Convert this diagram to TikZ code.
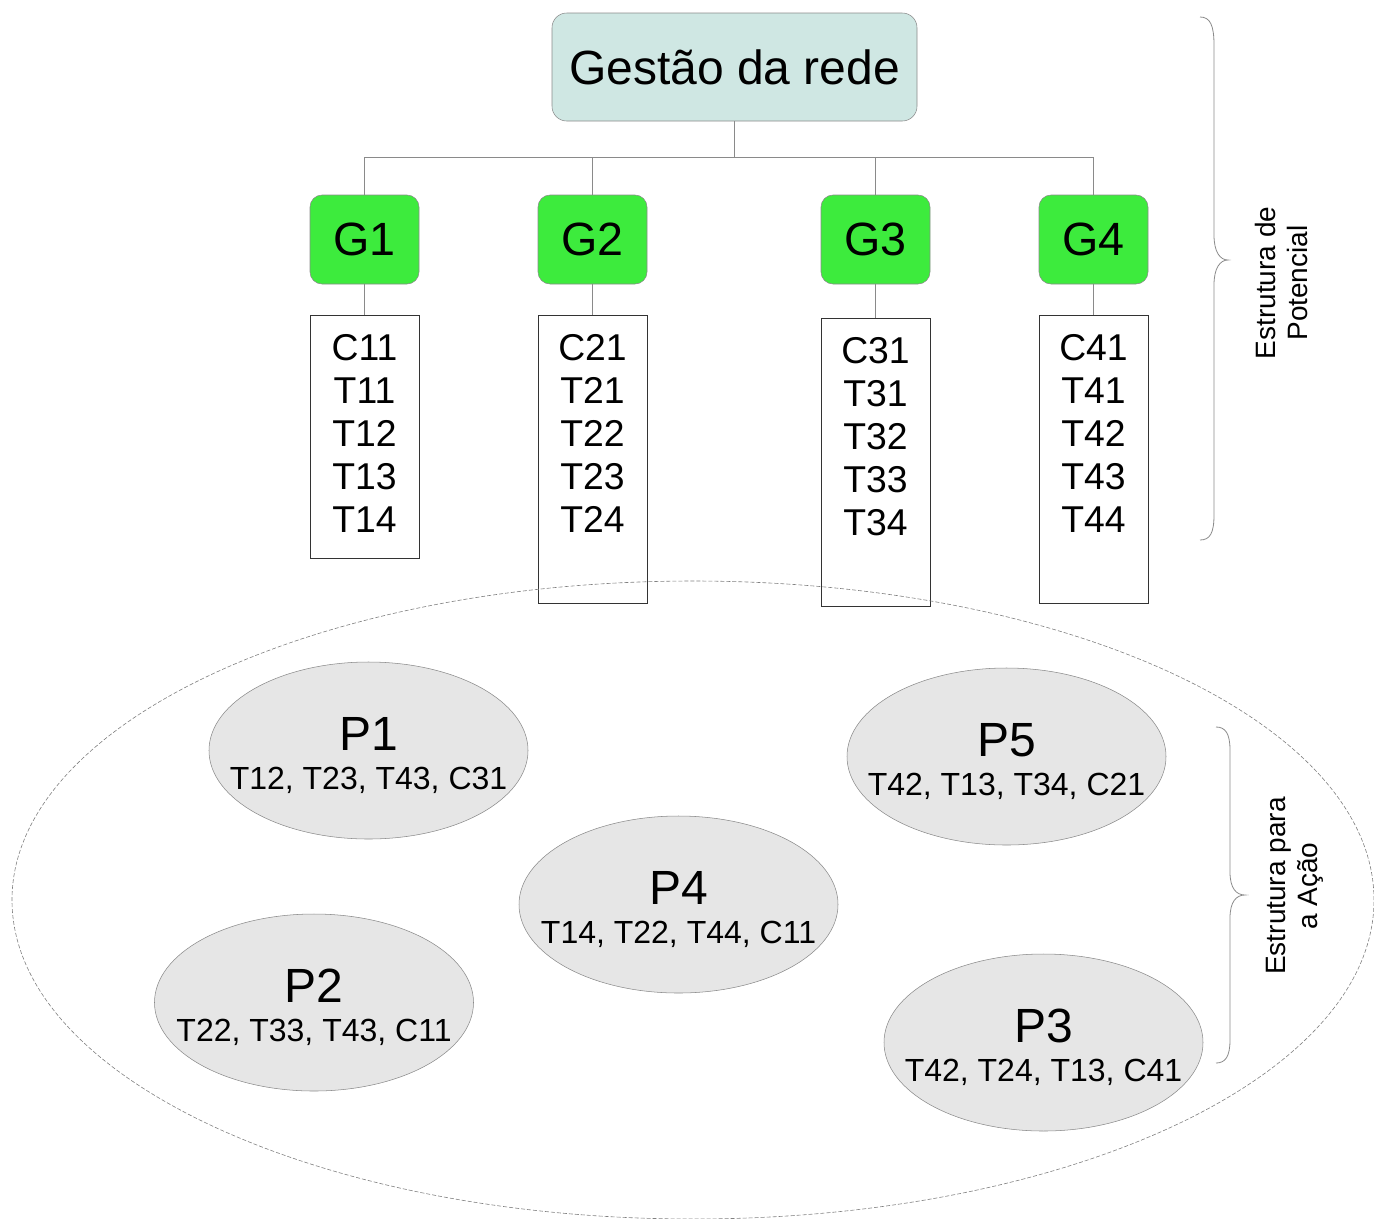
\documentclass[tikz,border=0pt]{standalone}
\usepackage{fontspec}
\setmainfont{Liberation Sans}
\usetikzlibrary{shapes.geometric}
\definecolor{tealfill}{HTML}{CFE7E3}
\definecolor{grnfill}{HTML}{3DEB3D}
\definecolor{pfill}{HTML}{E6E6E6}
\definecolor{lgray}{HTML}{8A8A8A}
\newcommand\lstbox[2]{\parbox[c][#1][t]{81.75pt}{\centering\vspace*{14pt}#2}}
\newcommand\ptext[2]{{\fontsize{36}{29.25}\selectfont\rule{0pt}{32pt}#1}\\#2}
\begin{document}
\begin{tikzpicture}[x=0.75pt,y=-0.75pt,
 topbox/.style={draw=lgray, fill=tealfill, rounded corners=11pt, minimum width=273.75pt, minimum height=81pt, inner sep=0pt, font=\fontsize{36}{40}\selectfont},
 gbox/.style={draw=lgray, fill=grnfill, rounded corners=9pt, minimum width=81.75pt, minimum height=66.75pt, inner sep=0pt, font=\fontsize{35}{40}\selectfont},
 listbox/.style={draw=black!80, anchor=north, inner sep=0pt, line width=0.6pt, font=\fontsize{28}{32.3}\selectfont},
 pnode/.style={ellipse, draw=lgray, fill=pfill, minimum width=239.25pt, minimum height=132.75pt, inner sep=0pt,
   label={[align=center, inner sep=0pt, font=\fontsize{24}{29.25}\selectfont]center:#1}},
 pool/.style={ellipse, draw=gray, dash pattern=on 3pt off 1.5pt, line width=0.45pt, minimum width=1021.5pt, minimum height=478.5pt, inner sep=0pt},
 conn/.style={draw=lgray, line width=0.6pt},
 brc/.style={draw=lgray, line width=0.6pt},
 side/.style={rotate=90, align=center, font=\fontsize{21}{24}\selectfont}
]
\useasboundingbox (0,0) rectangle (1374,1218);

% top
\node[topbox] (gest) at (734.5,67) {Gestão da rede};
\coordinate (bus) at (734.5,157);

\node[gbox] (g1) at (364.5,239.5) {G1};
\node[gbox] (g2) at (592.5,239.5) {G2};
\node[gbox] (g3) at (875.5,239.5) {G3};
\node[gbox] (g4) at (1093.5,239.5) {G4};

\draw[conn] (gest.south) -- (bus);
\draw[conn] (g1.north) |- (bus);
\draw[conn] (g2.north) |- (bus);
\draw[conn] (g3.north) |- (bus);
\draw[conn] (g4.north) |- (bus);

\node[listbox] (c1) at (364.5,315) {\lstbox{182.25pt}{C11\\T11\\T12\\T13\\T14}};
\node[listbox] (c2) at (592.5,315) {\lstbox{216pt}{C21\\T21\\T22\\T23\\T24}};
\node[listbox] (c3) at (875.5,318) {\lstbox{216pt}{C31\\T31\\T32\\T33\\T34}};
\node[listbox] (c4) at (1093.5,315) {\lstbox{216pt}{C41\\T41\\T42\\T43\\T44}};

\draw[conn] (g1.south) -- (c1.north);
\draw[conn] (g2.south) -- (c2.north);
\draw[conn] (g3.south) -- (c3.north);
\draw[conn] (g4.south) -- (c4.north);

% pool
\node[pool] (poolell) at (693,900) {};

\node[pnode={\ptext{P1}{T12, T23, T43, C31}}] (p1) at (368.5,750.5) {};
\node[pnode={\ptext{P5}{T42, T13, T34, C21}}] (p5) at (1006.5,756.5) {};
\node[pnode={\ptext{P4}{T14, T22, T44, C11}}] (p4) at (678.5,904.5) {};
\node[pnode={\ptext{P2}{T22, T33, T43, C11}}] (p2) at (314,1002.5) {};
\node[pnode={\ptext{P3}{T42, T24, T13, C41}}] (p3) at (1043.5,1042.5) {};

% braces
\draw[brc] (1200,17) .. controls (1210,17) and (1214,25) .. (1214,45) -- (1214,235)
  .. controls (1214,252) and (1220,260) .. (1228,260)
  .. controls (1220,260) and (1214,268) .. (1214,285) -- (1214,515)
  .. controls (1214,533) and (1210,540) .. (1200,540);
\draw[brc] (1216,727) .. controls (1225,727) and (1230,733) .. (1230,750) -- (1230,872)
  .. controls (1230,888) and (1236,895) .. (1245,895)
  .. controls (1236,895) and (1230,902) .. (1230,918) -- (1230,1040)
  .. controls (1230,1057) and (1225,1063) .. (1216,1063);

\node[side] (s1) at (1281,283) {Estrutura de\\Potencial};
\node[side] (s2) at (1295,886) {Estrutura para\\a Ação};
\end{tikzpicture}
\end{document}
